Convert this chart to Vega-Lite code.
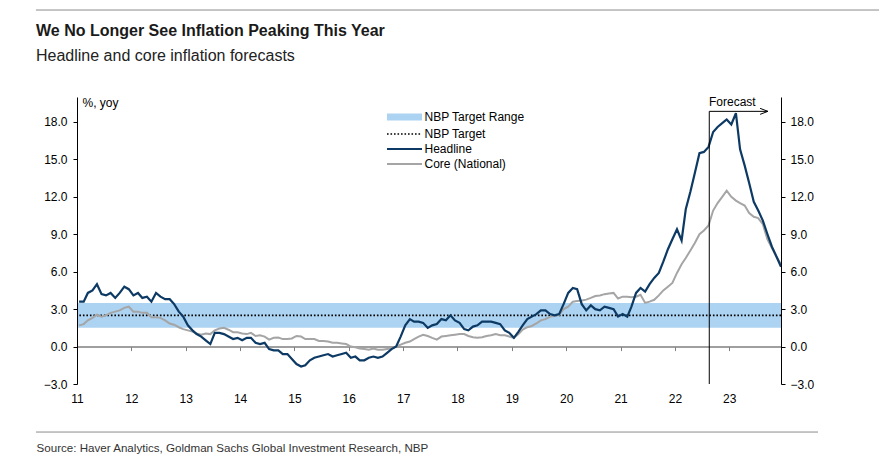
{
  "$schema": "https://vega.github.io/schema/vega-lite/v6.json",
  "width": 704,
  "height": 287,
  "autosize": {"type": "none"},
  "padding": {"left": 77, "top": 97, "right": 98, "bottom": 79},
  "background": "white",
  "config": {
    "view": {"stroke": null},
    "font": "Liberation Sans",
    "axis": {"labelFont": "Liberation Sans", "titleFont": "Liberation Sans", "grid": false}
  },
  "title": {
    "text": "We No Longer See Inflation Peaking This Year",
    "subtitle": "Headline and core inflation forecasts",
    "anchor": "start",
    "frame": "group",
    "dx": -41,
    "dy": 84,
    "offset": 30,
    "font": "Liberation Sans",
    "fontSize": 16,
    "fontWeight": "bold",
    "color": "#1a1a1a",
    "subtitleFont": "Liberation Sans",
    "subtitleFontSize": 16,
    "subtitleColor": "#222222",
    "subtitlePadding": 9
  },
  "datasets": {
    "cpi": [
      {"date": "2011-01-15", "headline": 3.6, "core": 1.7},
      {"date": "2011-02-15", "headline": 3.6, "core": 1.8},
      {"date": "2011-03-15", "headline": 4.3, "core": 2.1},
      {"date": "2011-04-15", "headline": 4.5, "core": 2.3},
      {"date": "2011-05-15", "headline": 5.0, "core": 2.55},
      {"date": "2011-06-15", "headline": 4.2, "core": 2.4},
      {"date": "2011-07-15", "headline": 4.1, "core": 2.5},
      {"date": "2011-08-15", "headline": 4.3, "core": 2.7},
      {"date": "2011-09-15", "headline": 3.9, "core": 2.8},
      {"date": "2011-10-15", "headline": 4.3, "core": 2.9},
      {"date": "2011-11-15", "headline": 4.8, "core": 3.1},
      {"date": "2011-12-15", "headline": 4.6, "core": 3.2},
      {"date": "2012-01-15", "headline": 4.1, "core": 2.8},
      {"date": "2012-02-15", "headline": 4.3, "core": 2.8},
      {"date": "2012-03-15", "headline": 3.9, "core": 2.7},
      {"date": "2012-04-15", "headline": 4.0, "core": 2.7},
      {"date": "2012-05-15", "headline": 3.6, "core": 2.35},
      {"date": "2012-06-15", "headline": 4.3, "core": 2.35},
      {"date": "2012-07-15", "headline": 4.0, "core": 2.3},
      {"date": "2012-08-15", "headline": 3.8, "core": 2.1},
      {"date": "2012-09-15", "headline": 3.8, "core": 1.85},
      {"date": "2012-10-15", "headline": 3.4, "core": 1.75},
      {"date": "2012-11-15", "headline": 2.8, "core": 1.55},
      {"date": "2012-12-15", "headline": 2.4, "core": 1.4},
      {"date": "2013-01-15", "headline": 1.7, "core": 1.3},
      {"date": "2013-02-15", "headline": 1.3, "core": 1.2},
      {"date": "2013-03-15", "headline": 1.0, "core": 1.05},
      {"date": "2013-04-15", "headline": 0.8, "core": 0.95},
      {"date": "2013-05-15", "headline": 0.5, "core": 1.05},
      {"date": "2013-06-15", "headline": 0.2, "core": 1.0},
      {"date": "2013-07-15", "headline": 1.1, "core": 1.3},
      {"date": "2013-08-15", "headline": 1.1, "core": 1.45},
      {"date": "2013-09-15", "headline": 1.0, "core": 1.5},
      {"date": "2013-10-15", "headline": 0.8, "core": 1.35},
      {"date": "2013-11-15", "headline": 0.6, "core": 1.15},
      {"date": "2013-12-15", "headline": 0.7, "core": 1.15},
      {"date": "2014-01-15", "headline": 0.5, "core": 1.05},
      {"date": "2014-02-15", "headline": 0.7, "core": 1.0},
      {"date": "2014-03-15", "headline": 0.7, "core": 1.1},
      {"date": "2014-04-15", "headline": 0.3, "core": 0.85},
      {"date": "2014-05-15", "headline": 0.2, "core": 0.9},
      {"date": "2014-06-15", "headline": 0.3, "core": 0.8},
      {"date": "2014-07-15", "headline": -0.2, "core": 0.56},
      {"date": "2014-08-15", "headline": -0.3, "core": 0.7},
      {"date": "2014-09-15", "headline": -0.3, "core": 0.72},
      {"date": "2014-10-15", "headline": -0.6, "core": 0.6},
      {"date": "2014-11-15", "headline": -0.6, "core": 0.6},
      {"date": "2014-12-15", "headline": -1.0, "core": 0.65},
      {"date": "2015-01-15", "headline": -1.4, "core": 0.85},
      {"date": "2015-02-15", "headline": -1.6, "core": 0.8},
      {"date": "2015-03-15", "headline": -1.5, "core": 0.6},
      {"date": "2015-04-15", "headline": -1.1, "core": 0.6},
      {"date": "2015-05-15", "headline": -0.9, "core": 0.6},
      {"date": "2015-06-15", "headline": -0.8, "core": 0.45},
      {"date": "2015-07-15", "headline": -0.7, "core": 0.45},
      {"date": "2015-08-15", "headline": -0.6, "core": 0.4},
      {"date": "2015-09-15", "headline": -0.8, "core": 0.3},
      {"date": "2015-10-15", "headline": -0.7, "core": 0.3},
      {"date": "2015-11-15", "headline": -0.6, "core": 0.25},
      {"date": "2015-12-15", "headline": -0.5, "core": 0.2},
      {"date": "2016-01-15", "headline": -0.9, "core": 0.0},
      {"date": "2016-02-15", "headline": -0.8, "core": -0.05},
      {"date": "2016-03-15", "headline": -1.1, "core": -0.15},
      {"date": "2016-04-15", "headline": -1.1, "core": -0.2},
      {"date": "2016-05-15", "headline": -0.9, "core": -0.25},
      {"date": "2016-06-15", "headline": -0.8, "core": -0.15},
      {"date": "2016-07-15", "headline": -0.9, "core": -0.25},
      {"date": "2016-08-15", "headline": -0.8, "core": -0.25},
      {"date": "2016-09-15", "headline": -0.5, "core": -0.2},
      {"date": "2016-10-15", "headline": -0.2, "core": -0.15},
      {"date": "2016-11-15", "headline": 0.0, "core": 0.0},
      {"date": "2016-12-15", "headline": 0.8, "core": 0.15},
      {"date": "2017-01-15", "headline": 1.7, "core": 0.3},
      {"date": "2017-02-15", "headline": 2.2, "core": 0.4},
      {"date": "2017-03-15", "headline": 2.0, "core": 0.6},
      {"date": "2017-04-15", "headline": 2.0, "core": 0.8},
      {"date": "2017-05-15", "headline": 1.9, "core": 0.95},
      {"date": "2017-06-15", "headline": 1.5, "core": 0.85},
      {"date": "2017-07-15", "headline": 1.7, "core": 0.7},
      {"date": "2017-08-15", "headline": 1.8, "core": 0.56},
      {"date": "2017-09-15", "headline": 2.2, "core": 0.8},
      {"date": "2017-10-15", "headline": 2.1, "core": 0.85},
      {"date": "2017-11-15", "headline": 2.5, "core": 0.9},
      {"date": "2017-12-15", "headline": 2.1, "core": 0.95},
      {"date": "2018-01-15", "headline": 1.9, "core": 1.0},
      {"date": "2018-02-15", "headline": 1.4, "core": 1.0},
      {"date": "2018-03-15", "headline": 1.3, "core": 0.85},
      {"date": "2018-04-15", "headline": 1.6, "core": 0.75},
      {"date": "2018-05-15", "headline": 1.7, "core": 0.7},
      {"date": "2018-06-15", "headline": 2.0, "core": 0.75},
      {"date": "2018-07-15", "headline": 2.0, "core": 0.85},
      {"date": "2018-08-15", "headline": 2.0, "core": 0.9},
      {"date": "2018-09-15", "headline": 1.9, "core": 1.0},
      {"date": "2018-10-15", "headline": 1.8, "core": 0.9},
      {"date": "2018-11-15", "headline": 1.3, "core": 0.9},
      {"date": "2018-12-15", "headline": 1.1, "core": 0.8},
      {"date": "2019-01-15", "headline": 0.7, "core": 0.7},
      {"date": "2019-02-15", "headline": 1.2, "core": 1.0},
      {"date": "2019-03-15", "headline": 1.7, "core": 1.36},
      {"date": "2019-04-15", "headline": 2.2, "core": 1.55},
      {"date": "2019-05-15", "headline": 2.4, "core": 1.65},
      {"date": "2019-06-15", "headline": 2.6, "core": 1.85},
      {"date": "2019-07-15", "headline": 2.9, "core": 2.1},
      {"date": "2019-08-15", "headline": 2.9, "core": 2.2},
      {"date": "2019-09-15", "headline": 2.6, "core": 2.4},
      {"date": "2019-10-15", "headline": 2.5, "core": 2.45},
      {"date": "2019-11-15", "headline": 2.6, "core": 2.55},
      {"date": "2019-12-15", "headline": 3.4, "core": 3.0},
      {"date": "2020-01-15", "headline": 4.3, "core": 3.2},
      {"date": "2020-02-15", "headline": 4.7, "core": 3.6},
      {"date": "2020-03-15", "headline": 4.6, "core": 3.65},
      {"date": "2020-04-15", "headline": 3.4, "core": 3.7},
      {"date": "2020-05-15", "headline": 2.9, "core": 3.76},
      {"date": "2020-06-15", "headline": 3.3, "core": 3.9},
      {"date": "2020-07-15", "headline": 3.0, "core": 4.05},
      {"date": "2020-08-15", "headline": 2.9, "core": 4.1},
      {"date": "2020-09-15", "headline": 3.2, "core": 4.2},
      {"date": "2020-10-15", "headline": 3.1, "core": 4.25},
      {"date": "2020-11-15", "headline": 3.0, "core": 4.3},
      {"date": "2020-12-15", "headline": 2.4, "core": 3.85},
      {"date": "2021-01-15", "headline": 2.6, "core": 4.0},
      {"date": "2021-02-15", "headline": 2.4, "core": 4.0},
      {"date": "2021-03-15", "headline": 3.2, "core": 3.96},
      {"date": "2021-04-15", "headline": 4.3, "core": 4.0},
      {"date": "2021-05-15", "headline": 4.7, "core": 4.15},
      {"date": "2021-06-15", "headline": 4.4, "core": 3.5},
      {"date": "2021-07-15", "headline": 5.0, "core": 3.6},
      {"date": "2021-08-15", "headline": 5.5, "core": 3.75},
      {"date": "2021-09-15", "headline": 5.9, "core": 4.1},
      {"date": "2021-10-15", "headline": 6.8, "core": 4.5},
      {"date": "2021-11-15", "headline": 7.8, "core": 4.8},
      {"date": "2021-12-15", "headline": 8.6, "core": 5.1},
      {"date": "2022-01-15", "headline": 9.4, "core": 5.9},
      {"date": "2022-02-15", "headline": 8.5, "core": 6.6},
      {"date": "2022-03-15", "headline": 11.0, "core": 7.1},
      {"date": "2022-04-15", "headline": 12.4, "core": 7.7},
      {"date": "2022-05-15", "headline": 13.9, "core": 8.3},
      {"date": "2022-06-15", "headline": 15.5, "core": 9.0},
      {"date": "2022-07-15", "headline": 15.6, "core": 9.3},
      {"date": "2022-08-15", "headline": 16.0, "core": 9.7},
      {"date": "2022-09-15", "headline": 17.2, "core": 10.9},
      {"date": "2022-10-15", "headline": 17.6, "core": 11.5},
      {"date": "2022-11-15", "headline": 17.9, "core": 12.0},
      {"date": "2022-12-15", "headline": 18.2, "core": 12.5},
      {"date": "2023-01-15", "headline": 17.8, "core": 12.0},
      {"date": "2023-02-15", "headline": 18.7, "core": 11.7},
      {"date": "2023-03-15", "headline": 15.8, "core": 11.5},
      {"date": "2023-04-15", "headline": 14.5, "core": 11.3},
      {"date": "2023-05-15", "headline": 13.1, "core": 10.7},
      {"date": "2023-06-15", "headline": 11.6, "core": 10.4},
      {"date": "2023-07-15", "headline": 10.9, "core": 10.3},
      {"date": "2023-08-15", "headline": 10.1, "core": 9.8},
      {"date": "2023-09-15", "headline": 9.0, "core": 8.6},
      {"date": "2023-10-15", "headline": 8.0, "core": 7.9},
      {"date": "2023-11-15", "headline": 7.2, "core": 7.2},
      {"date": "2023-12-15", "headline": 6.4, "core": 6.6}
    ]
  },
  "layer": [
    {
      "data": {"values": [{"series": "NBP Target Range", "lo": 1.5, "hi": 3.5}]},
      "mark": {"type": "rect"},
      "encoding": {
        "y": {
          "field": "lo", "type": "quantitative",
          "scale": {"domain": [-3, 20], "nice": false, "zero": false},
          "axis": {
            "orient": "left", "values": [-3, 0, 3, 6, 9, 12, 15, 18], "format": ".1f",
            "domainColor": "#000000", "domainWidth": 1, "tickColor": "#000000", "tickSize": 4,
            "labelPadding": 6, "labelFontSize": 12, "labelColor": "#000000", "zindex": 1,
            "title": "%, yoy", "titleAngle": 0, "titleAlign": "left", "titleBaseline": "alphabetic",
            "titleX": 5, "titleY": 9, "titleFontSize": 12, "titleFontWeight": "normal", "titleColor": "#000000"
          }
        },
        "y2": {"field": "hi"},
        "color": {
          "field": "series", "type": "nominal",
          "scale": {
            "domain": ["NBP Target Range", "NBP Target", "Headline", "Core (National)"],
            "range": ["#acd3f1", "#000000", "#0d3a64", "#a5a5a5"]
          },
          "legend": {
            "title": null, "orient": "none", "legendX": 304, "legendY": 14, "padding": 0,
            "symbolType": "M-8.75,0L8.75,0", "symbolSize": 16, "symbolOffset": 17.5,
            "labelFont": "Liberation Sans", "labelFontSize": 12, "labelColor": "#000000",
            "labelOffset": 14, "rowPadding": 3,
            "encode": {
              "symbols": {
                "update": {
                  "shape": {"signal": "datum.value === 'NBP Target Range' ? 'M-8.75,-1.8L8.75,-1.8L8.75,1.8L-8.75,1.8Z' : 'M-8.75,0L8.75,0'"},
                  "fill": {"signal": "datum.value === 'NBP Target Range' ? '#acd3f1' : 'transparent'"},
                  "stroke": {"signal": "datum.value === 'NBP Target' ? '#000000' : datum.value === 'Headline' ? '#0d3a64' : datum.value === 'Core (National)' ? '#a5a5a5' : 'transparent'"},
                  "strokeDash": {"signal": "datum.value === 'NBP Target' ? [1.6, 1.9] : []"},
                  "strokeWidth": {"signal": "datum.value === 'NBP Target' ? 1.6 : 2"},
                  "opacity": {"value": 1}
                }
              }
            }
          }
        }
      }
    },
    {
      "data": {"values": [{}]},
      "mark": {"type": "rule", "color": "#000000", "strokeDash": [1.6, 1.9], "strokeWidth": 1.6},
      "encoding": {"y": {"datum": 2.5, "type": "quantitative", "axis": null}}
    },
    {
      "data": {"name": "cpi"},
      "mark": {"type": "line", "color": "#a5a5a5", "strokeWidth": 2},
      "encoding": {
        "x": {
          "field": "date", "type": "temporal",
          "axis": {
            "orient": "bottom", "offset": -37.43, "labels": false, "title": null,
            "values": [{"year": 2011, "utc": true}, {"year": 2012, "utc": true}, {"year": 2013, "utc": true}, {"year": 2014, "utc": true}, {"year": 2015, "utc": true}, {"year": 2016, "utc": true}, {"year": 2017, "utc": true}, {"year": 2018, "utc": true}, {"year": 2019, "utc": true}, {"year": 2020, "utc": true}, {"year": 2021, "utc": true}, {"year": 2022, "utc": true}, {"year": 2023, "utc": true}],
            "domainColor": "#7f7f7f", "domainWidth": 1.5, "tickColor": "#7f7f7f", "tickSize": 4, "tickWidth": 1
          }
        },
        "y": {"field": "core", "type": "quantitative", "axis": null}
      }
    },
    {
      "data": {"name": "cpi"},
      "mark": {"type": "line", "color": "#0d3a64", "strokeWidth": 2.2},
      "encoding": {
        "x": {
          "field": "date", "type": "temporal",
          "scale": {"type": "utc", "domain": [{"year": 2011, "month": 1, "date": 1, "utc": true}, {"year": 2023, "month": 12, "date": 15, "utc": true}]},
          "axis": {
            "orient": "bottom", "format": "%y", "domain": false, "ticks": false, "tickSize": 0,
            "labelPadding": 9, "labelFontSize": 12, "labelColor": "#000000", "labelFlush": false,
            "values": [{"year": 2011, "utc": true}, {"year": 2012, "utc": true}, {"year": 2013, "utc": true}, {"year": 2014, "utc": true}, {"year": 2015, "utc": true}, {"year": 2016, "utc": true}, {"year": 2017, "utc": true}, {"year": 2018, "utc": true}, {"year": 2019, "utc": true}, {"year": 2020, "utc": true}, {"year": 2021, "utc": true}, {"year": 2022, "utc": true}, {"year": 2023, "utc": true}],
            "title": "Source: Haver Analytics, Goldman Sachs Global Investment Research, NBP",
            "titleX": -41, "titleY": 67, "titleAlign": "left", "titleBaseline": "alphabetic",
            "titleFont": "Liberation Sans",
            "titleFontSize": 11.6, "titleFontWeight": "normal", "titleColor": "#333333"
          }
        },
        "y": {
          "field": "headline", "type": "quantitative",
          "axis": {
            "orient": "right", "values": [-3, 0, 3, 6, 9, 12, 15, 18], "format": ".1f",
            "domainColor": "#000000", "domainWidth": 1, "tickColor": "#000000", "tickSize": 4,
            "labelPadding": 5, "labelFontSize": 12, "labelColor": "#000000", "zindex": 1, "title": null
          }
        }
      }
    },
    {
      "data": {"values": [{}]},
      "mark": {"type": "rule", "color": "#000000", "strokeWidth": 1},
      "encoding": {
        "x": {"datum": {"year": 2022, "month": 8, "date": 20, "utc": true}, "type": "temporal", "axis": null},
        "y": {"datum": -3, "type": "quantitative", "axis": null},
        "y2": {"datum": 18.85}
      }
    },
    {
      "data": {"values": [{}]},
      "mark": {"type": "rule", "color": "#000000", "strokeWidth": 1},
      "encoding": {
        "x": {"datum": {"year": 2022, "month": 8, "date": 20, "utc": true}, "type": "temporal", "axis": null},
        "x2": {"datum": {"year": 2023, "month": 9, "date": 18, "utc": true}},
        "y": {"datum": 18.85, "type": "quantitative", "axis": null}
      }
    },
    {
      "data": {"values": [{}]},
      "mark": {"type": "point", "shape": "M-2.6,-1L0,0L-2.6,1", "size": 36, "filled": false, "stroke": "#000000", "strokeWidth": 1, "opacity": 1},
      "encoding": {
        "x": {"datum": {"year": 2023, "month": 9, "date": 18, "utc": true}, "type": "temporal", "axis": null},
        "y": {"datum": 18.85, "type": "quantitative", "axis": null}
      }
    },
    {
      "data": {"values": [{}]},
      "mark": {"type": "text", "text": "Forecast", "align": "left", "baseline": "alphabetic", "fontSize": 12, "font": "Liberation Sans", "color": "#000000"},
      "encoding": {
        "x": {"datum": {"year": 2022, "month": 8, "date": 18, "utc": true}, "type": "temporal", "axis": null},
        "y": {"datum": 19.3, "type": "quantitative", "axis": null}
      }
    },
    {
      "data": {"values": [{}]},
      "mark": {"type": "rule", "color": "#8c8c8c", "strokeWidth": 1},
      "encoding": {
        "x": {"datum": {"year": 2010, "month": 3, "date": 31, "utc": true}, "type": "temporal", "axis": null},
        "x2": {"datum": {"year": 2025, "month": 10, "date": 5, "utc": true}},
        "y": {"datum": 26.97, "type": "quantitative", "axis": null}
      }
    },
    {
      "data": {"values": [{}]},
      "mark": {"type": "rule", "color": "#8c8c8c", "strokeWidth": 1},
      "encoding": {
        "x": {"datum": {"year": 2010, "month": 3, "date": 31, "utc": true}, "type": "temporal", "axis": null},
        "x2": {"datum": {"year": 2024, "month": 8, "date": 20, "utc": true}},
        "y": {"datum": -6.85, "type": "quantitative", "axis": null}
      }
    }
  ],
  "resolve": {"axis": {"x": "independent", "y": "independent"}}
}
